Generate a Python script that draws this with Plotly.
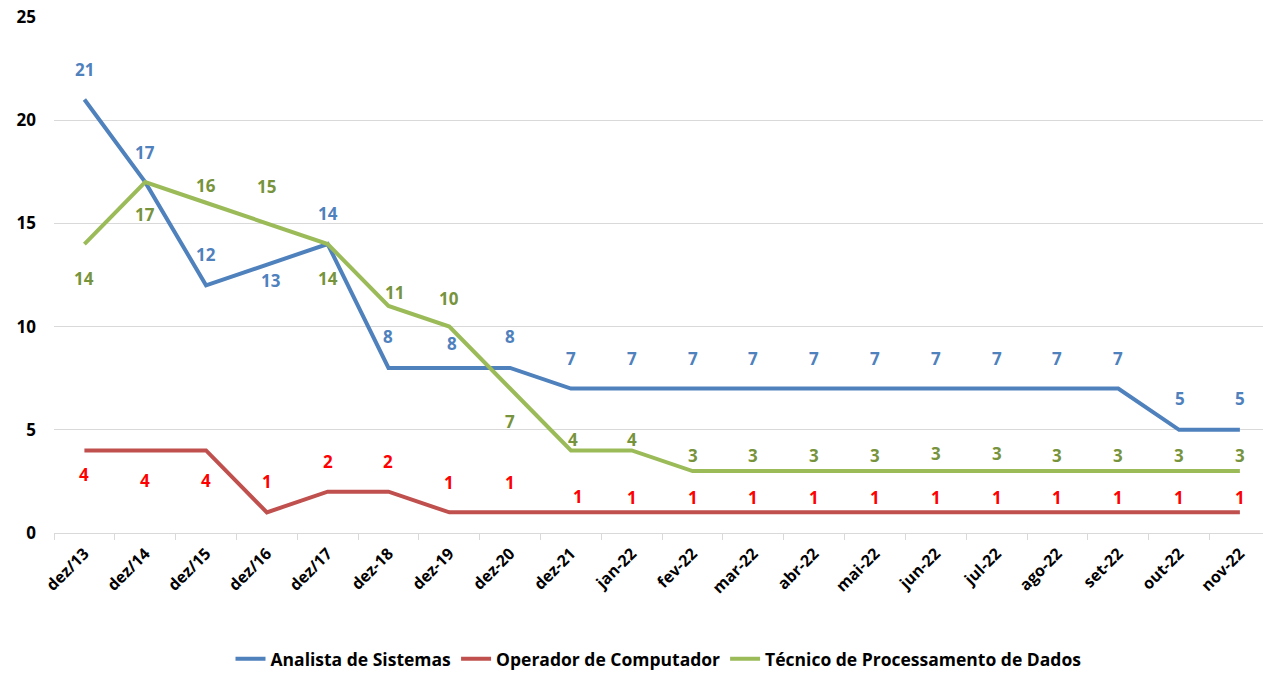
import plotly.graph_objects as go

categories = ["dez/13", "dez/14", "dez/15", "dez/16", "dez/17", "dez-18", "dez-19", "dez-20",
              "dez-21", "jan-22", "fev-22", "mar-22", "abr-22", "mai-22", "jun-22", "jul-22",
              "ago-22", "set-22", "out-22", "nov-22"]

analista = [21, 17, 12, 13, 14, 8, 8, 8, 7, 7, 7, 7, 7, 7, 7, 7, 7, 7, 5, 5]
operador = [4, 4, 4, 1, 2, 2, 1, 1, 1, 1, 1, 1, 1, 1, 1, 1, 1, 1, 1, 1]
tecnico = [14, 17, 16, 15, 14, 11, 10, 7, 4, 4, 3, 3, 3, 3, 3, 3, 3, 3, 3, 3]

# label placement offsets in screen pixels (positive = up)
analista_shift = [30, 30, 31, -16, 31, 31, 24, 31, 30, 30, 30, 30, 30, 30, 30, 30, 30, 30, 31, 31]
operador_shift = [-24, -30, -30, 31, 30, 30, 30, 30, 16, 15, 15, 15, 15, 15, 15, 15, 15, 15, 15, 15]
tecnico_shift = [-34, -32, 17, 37, -34, 13, 28, -33, 11, 11, 16, 16, 16, 16, 18, 18, 16, 16, 16, 16]
analista_xshift = [0, 0, 0, 4, 0, 0, 3, 0, 0, 0, 0, 0, 0, 0, 0, 0, 0, 0, 1, 0]
operador_xshift = [0, 0, 0, 0, 0, 0, 0, 0, 7, 0, 0, 0, 0, 0, 0, 0, 0, 0, 0, 0]
tecnico_xshift = [0, 0, 0, 0, 0, 6, 0, 0, 2, 0, 0, 0, 0, 0, 0, 0, 0, 0, 0, 0]

series = [
    ("Analista de Sistemas", analista, "#4F81BD", "#4F81BD", analista_shift, analista_xshift),
    ("Operador de Computador", operador, "#C0504D", "#FF0000", operador_shift, operador_xshift),
    ("Técnico de Processamento de Dados", tecnico, "#9BBB59", "#77933C", tecnico_shift, tecnico_xshift),
]

FONT = "'Open Sans', 'Noto Sans', sans-serif"

fig = go.Figure()
annotations = []
for name, vals, lc, tc, shifts, xshifts in series:
    fig.add_trace(go.Scatter(x=categories, y=vals, mode="lines", name="<b>%s</b>" % name,
                             line=dict(color=lc, width=4)))
    for c, v, s, xs in zip(categories, vals, shifts, xshifts):
        annotations.append(dict(x=c, y=v, text="<b>%d</b>" % v, showarrow=False, yshift=s, xshift=xs,
                                font=dict(family=FONT, size=17, color=tc)))

fig.update_layout(
    width=1263, height=677,
    margin=dict(l=54, r=0, t=17, b=139),
    paper_bgcolor="white", plot_bgcolor="white",
    font=dict(family=FONT, size=14, color="black"),
    annotations=annotations,
    showlegend=True,
    legend=dict(orientation="h", x=0.5, xanchor="center", y=-0.244, yanchor="middle",
                font=dict(family=FONT, size=17.5, color="black"),
                tracegroupgap=0),
)

ticktext = ["<b>%s</b>" % c for c in categories]
fig.update_xaxes(type="category", range=[-0.5, 19.38], tickangle=-45, automargin=False,
                 tickmode="array", tickvals=categories, ticktext=ticktext,
                 showgrid=False, showline=True, linecolor="#D9D9D9", linewidth=1,
                 ticks="outside", tickson="boundaries", ticklen=6, tickcolor="#D9D9D9",
                 ticklabelstandoff=4, ticklabeloverflow="allow",
                 tickfont=dict(family=FONT, size=16, color="black"))
yvals = [0, 5, 10, 15, 20, 25]
fig.update_yaxes(range=[0, 25], tickmode="array", tickvals=yvals,
                 ticktext=["<b>%d</b>" % v for v in yvals], automargin=False,
                 showgrid=True, gridcolor="#D9D9D9", gridwidth=1,
                 zeroline=False, showline=False, ticks="", ticklabelstandoff=17,
                 ticklabeloverflow="allow",
                 tickfont=dict(family=FONT, size=17, color="black"))

page_css = ("document.documentElement.style.margin='0';"
            "document.documentElement.style.overflow='hidden';"
            "document.documentElement.style.height='677px';"
            "document.body.style.margin='0';"
            "document.body.style.overflow='hidden';"
            "document.body.style.height='677px';")

fig.write_html("out.html", post_script=page_css, config={"displayModeBar": False})
